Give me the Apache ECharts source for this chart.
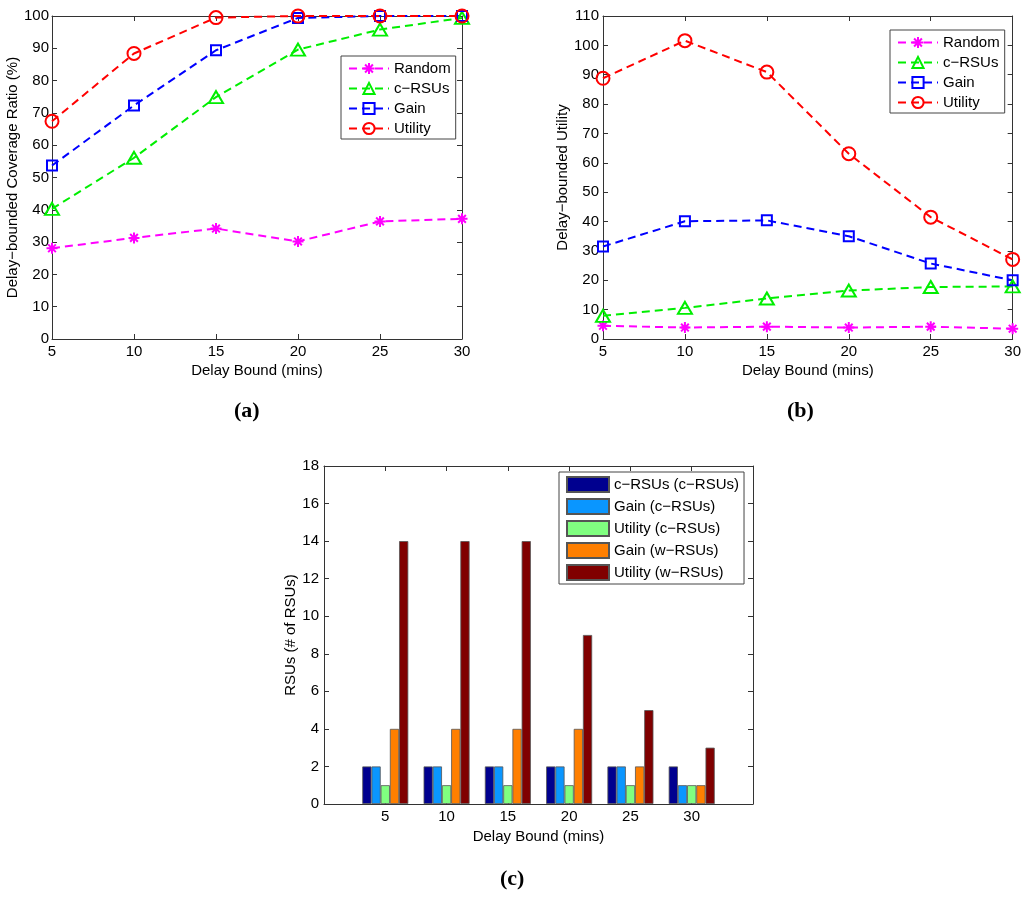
<!DOCTYPE html>
<html><head><meta charset="utf-8">
<script src="https://cdn.jsdelivr.net/npm/echarts@6/dist/echarts.min.js"></script>
<style>html,body{margin:0;padding:0;background:#fff}#c{width:1024px;height:901px}</style>
</head><body><div id="c"></div>
<script>
// ---- data ----
const delayBounds = [5, 10, 15, 20, 25, 30];
const covRandom  = [28.1, 31.3, 34.2, 30.2, 36.4, 37.2];
const covCRSUs   = [40.3, 56.1, 74.9, 89.6, 95.8, 99.4];
const covGain    = [53.7, 72.3, 89.4, 99.4, 100, 100];
const covUtility = [67.4, 88.4, 99.5, 100, 100, 100];

const utilRandom  = [4.5, 3.9, 4.2, 3.9, 4.2, 3.5];
const utilCRSUs   = [7.9, 10.6, 13.8, 16.5, 17.7, 17.9];
const utilGain    = [31.5, 40.1, 40.4, 35.0, 25.7, 20.0];
const utilUtility = [88.8, 101.6, 90.9, 63.1, 41.5, 27.1];

const barCats     = ['5', '10', '15', '20', '25', '30'];
const rsuCRSUs    = [2, 2, 2, 2, 2, 2];
const rsuGainC    = [2, 2, 2, 2, 2, 1];
const rsuUtilityC = [1, 1, 1, 1, 1, 1];
const rsuGainW    = [4, 4, 4, 4, 2, 1];
const rsuUtilityW = [14, 14, 14, 9, 5, 3];

const lineNames = ['Random', 'c\u2212RSUs', 'Gain', 'Utility'];
const barNames = ['c\u2212RSUs (c\u2212RSUs)', 'Gain (c\u2212RSUs)', 'Utility (c\u2212RSUs)', 'Gain (w\u2212RSUs)', 'Utility (w\u2212RSUs)'];

// ---- styling helpers ----
const FF = '"Liberation Sans", Arial, Helvetica, sans-serif';
const AX = '#333';
const pair = arr => arr.map((v, i) => [delayBounds[i], v]);

function axisBase(extra) {
  return Object.assign({
    axisLine: {show: true, onZero: false, lineStyle: {color: AX, width: 1}},
    axisTick: {show: true, inside: true, length: 5, lineStyle: {color: AX}},
    axisLabel: {show: false},
    splitLine: {show: false},
    nameTextStyle: {fontSize: 15, color: '#000', fontFamily: FF}
  }, extra);
}

function lineAxes(g, ymax, yname, ygap, ylmargin) {
  const xs = {type: 'value', min: 5, max: 30, interval: 5, gridIndex: g};
  const ys = {type: 'value', min: 0, max: ymax, interval: 10, gridIndex: g};
  return {
    x: [
      axisBase(Object.assign({}, xs, {position: 'bottom', name: 'Delay Bound (mins)', nameLocation: 'middle', nameGap: 24,
        axisLabel: {show: true, fontSize: 15, color: '#000', margin: 5, fontFamily: FF}})),
      axisBase(Object.assign({}, xs, {position: 'top'}))
    ],
    y: [
      axisBase(Object.assign({}, ys, {position: 'left', name: yname, nameLocation: 'middle', nameGap: ygap,
        axisLabel: {show: true, fontSize: 15, color: '#000', margin: ylmargin, fontFamily: FF}})),
      axisBase(Object.assign({}, ys, {position: 'right'}))
    ]
  };
}

const asterisk = 'path://M5,0L5,10M0,5L10,5M1.5,1.5L8.5,8.5M1.5,8.5L8.5,1.5';
const lineStyles = [
  {color: '#FF00FF', symbol: asterisk, size: 11},
  {color: '#00EE00', symbol: 'triangle', size: [14, 12]},
  {color: '#0000FF', symbol: 'rect', size: 10},
  {color: '#FF0000', symbol: 'circle', size: 13}
];

function lineSeries(name, data, k, xi, yi) {
  const s = lineStyles[k];
  return {
    type: 'line', name: name, xAxisIndex: xi, yAxisIndex: yi,
    data: pair(data), symbol: s.symbol, symbolSize: s.size, showAllSymbol: true,
    clip: false, animation: false,
    lineStyle: {color: s.color, width: 2, type: [8, 5]},
    itemStyle: {color: 'transparent', borderColor: s.color, borderWidth: 2}
  };
}

const A = lineAxes(0, 100, 'Delay\u2212bounded Coverage Ratio (%)', 27, 3);
const B = lineAxes(1, 110, 'Delay\u2212bounded Utility', 28, 4);

const padCats = [''].concat(barCats, ['']);
const pad = arr => ['-'].concat(arr, ['-']);
const barColors = ['#00008F', '#0A96FF', '#80FF80', '#FF7F00', '#800000'];
const barData = [rsuCRSUs, rsuGainC, rsuUtilityC, rsuGainW, rsuUtilityW];

const Cx = [
  axisBase({type: 'category', gridIndex: 2, data: padCats, boundaryGap: false, position: 'bottom',
    name: 'Delay Bound (mins)', nameLocation: 'middle', nameGap: 25,
    axisTick: {show: true, inside: true, length: 5, interval: 0, lineStyle: {color: AX}},
    axisLabel: {show: true, interval: 0, fontSize: 15, color: '#000', margin: 5, fontFamily: FF}}),
  axisBase({type: 'category', gridIndex: 2, data: padCats, boundaryGap: false, position: 'top',
    axisTick: {show: true, inside: true, length: 5, interval: 0, lineStyle: {color: AX}}})
];
const Cy = [
  axisBase({type: 'value', gridIndex: 2, min: 0, max: 18, interval: 2, position: 'left',
    name: 'RSUs (# of RSUs)', nameLocation: 'middle', nameGap: 20,
    axisLabel: {show: true, fontSize: 15, color: '#000', margin: 5, fontFamily: FF}}),
  axisBase({type: 'value', gridIndex: 2, min: 0, max: 18, interval: 2, position: 'right'})
];

const series = [];
[covRandom, covCRSUs, covGain, covUtility].forEach((d, k) => series.push(lineSeries(lineNames[k], d, k, 0, 0)));
[utilRandom, utilCRSUs, utilGain, utilUtility].forEach((d, k) => series.push(lineSeries(lineNames[k], d, k, 2, 2)));
barData.forEach((d, k) => series.push({
  type: 'bar', name: barNames[k], xAxisIndex: 4, yAxisIndex: 4, data: pad(d),
  barWidth: 9.2, barGap: '0%', animation: false,
  itemStyle: {color: barColors[k], borderColor: '#555', borderWidth: 0.8}
}));

const legendCommon = {
  orient: 'vertical', backgroundColor: '#fff', borderColor: '#444', borderWidth: 1, borderRadius: 0,
  itemGap: 5, textStyle: {fontSize: 15, color: '#000', fontFamily: FF}, selectedMode: false
};

const subLabel = (txt, x, y) => ({
  type: 'text', left: x, top: y,
  style: {text: txt, font: 'bold 22px "Liberation Serif", "Times New Roman", serif', fill: '#000'}
});

const option = {
  animation: false,
  textStyle: {fontFamily: FF},
  grid: [
    {left: 52, top: 16, width: 410, height: 323},
    {left: 603, top: 16, width: 410, height: 323},
    {left: 324, top: 466, width: 429, height: 338}
  ],
  xAxis: A.x.concat(B.x, Cx),
  yAxis: A.y.concat(B.y, Cy),
  legend: [
    Object.assign({}, legendCommon, {left: 341, top: 56, padding: [5, 5, 3, 7], itemWidth: 40, itemHeight: 14, data: lineNames}),
    Object.assign({}, legendCommon, {left: 890, top: 30, padding: [5, 5, 3, 7], itemWidth: 40, itemHeight: 14, data: lineNames}),
    Object.assign({}, legendCommon, {left: 559, top: 472, padding: [4, 5, 3, 7], itemWidth: 42, itemHeight: 15,
      icon: 'rect', data: barNames})
  ],
  series: series,
  graphic: [
    subLabel('(a)', 234, 400),
    subLabel('(b)', 787, 400),
    subLabel('(c)', 500, 868)
  ]
};

const chart = echarts.init(document.getElementById('c'), null, {renderer: 'canvas'});
chart.setOption(option);
</script>
</body></html>
